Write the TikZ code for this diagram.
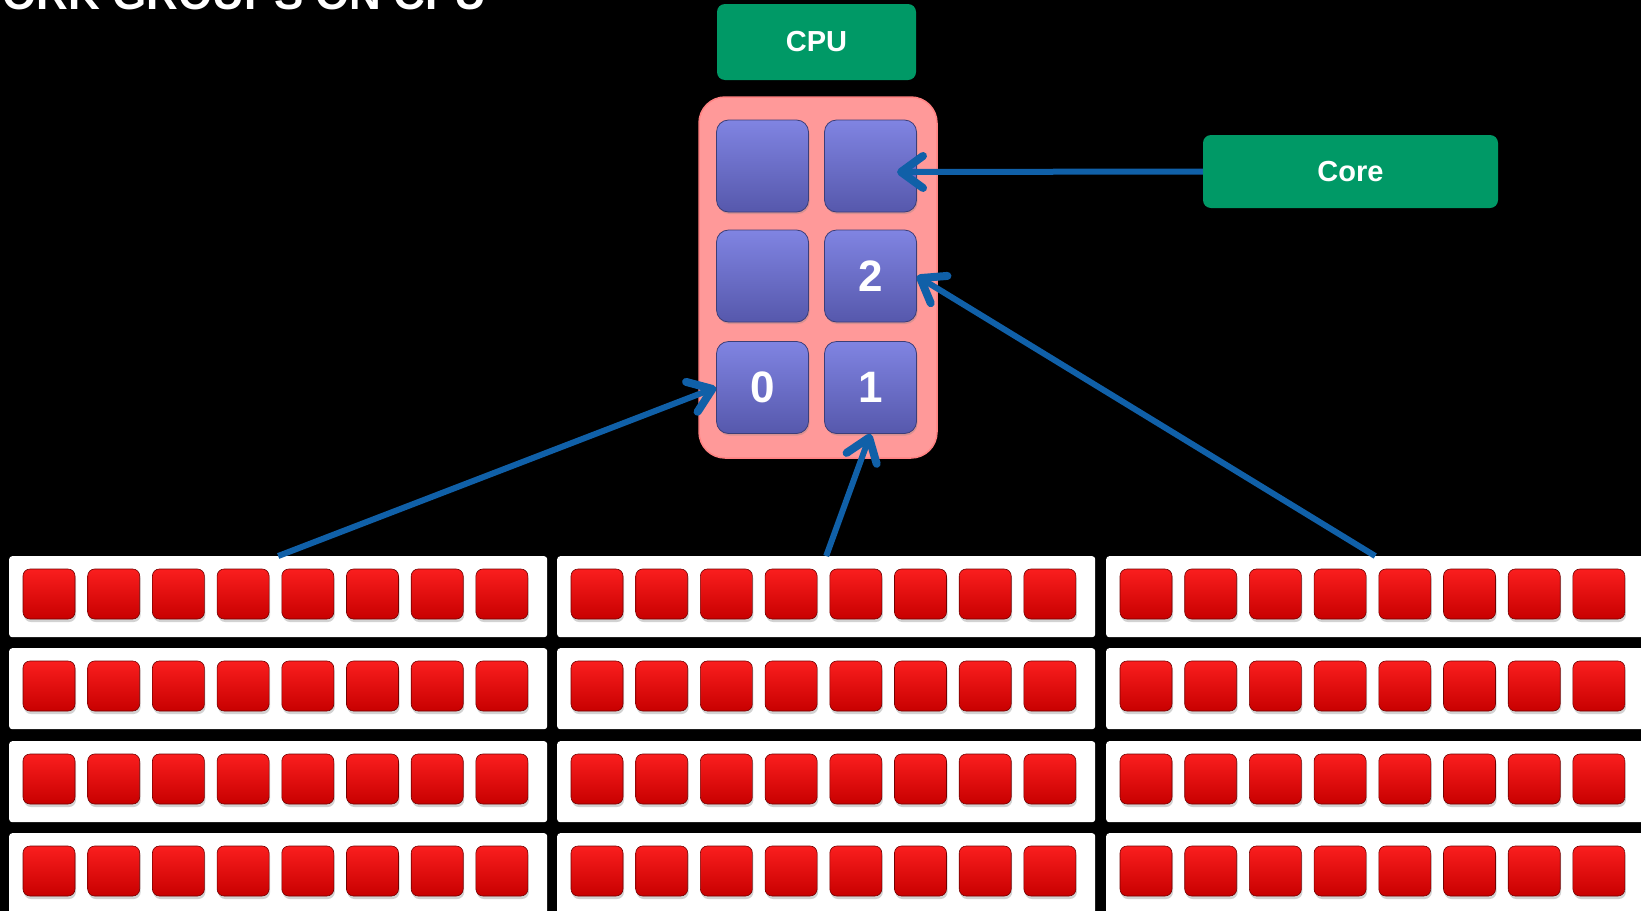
\documentclass[tikz,border=0pt]{standalone}
\usepackage{fontspec}
\setmainfont{Liberation Sans}
\usetikzlibrary{arrows.meta,shadows,calc}
\definecolor{bgreen}{RGB}{0,153,102}
\definecolor{pinkc}{RGB}{255,153,153}
\definecolor{bluetop}{RGB}{128,132,226}
\definecolor{bluebot}{RGB}{86,88,172}
\definecolor{redtop}{RGB}{250,30,30}
\definecolor{redbot}{RGB}{200,0,0}
\definecolor{arrblue}{RGB}{16,96,168}
\begin{document}
\begin{tikzpicture}[x=1pt,y=-1pt,
  greenbox/.style={fill=bgreen, rounded corners=8pt, text=white, font=\fontsize{29}{29}\selectfont\bfseries, inner sep=0},
  cpubody/.style={fill=pinkc, rounded corners=26pt, draw=pinkc!85!red, line width=1.5pt, inner sep=0},
  corebox/.style={minimum width=92pt, minimum height=92pt, rounded corners=12pt, top color=bluetop, bottom color=bluebot, draw=bluebot!70!black, line width=0.8pt, text=white, font=\fontsize{44}{44}\selectfont\bfseries, inner sep=0, drop shadow={opacity=0.3, shadow xshift=1pt, shadow yshift=-2pt}},
  panel/.style={fill=white, rounded corners=3pt, minimum height=81pt, minimum width=538pt, inner sep=0},
  item/.style={minimum width=52pt, minimum height=50pt, rounded corners=7pt, top color=redtop, bottom color=redbot, inner sep=0, draw=red!45!black, line width=0.6pt, drop shadow={opacity=0.35, shadow xshift=1pt, shadow yshift=-3pt}},
  arr/.style={draw=arrblue, line width=6pt, -{Straight Barb[length=22pt,width=32pt,line width=2pt 1,round]}},
  titletext/.style={text=white, font=\fontsize{44}{44}\selectfont\bfseries, inner sep=0}
]
\useasboundingbox[fill=black] (0,0) rectangle (1641,911);

% title (clipped by the page top)
\node[titletext, anchor=base east] (title) at (487,9) {WORK GROUPS ON CPU};

% CPU label and body
\node[greenbox, minimum width=199pt, minimum height=76pt] (cpulabel) at (816.5,42) {CPU};
\node[cpubody, minimum width=238pt, minimum height=361pt] (cpu) at (818,277.5) {};

% cores
\node[corebox] (q11) at (762.5,166) {};
\node[corebox] (q12) at (870.5,166) {};
\node[corebox] (q21) at (762.5,276) {};
\node[corebox] (q22) at (870.5,276) {2};
\node[corebox] (q31) at (762.5,387.5) {0};
\node[corebox] (q32) at (870.5,387.5) {1};

% Core label
\node[greenbox, minimum width=295pt, minimum height=73pt] (corelabel) at (1350.5,171.5) {Core};

% work groups
\foreach \c/\px in {1/9, 2/557, 3/1106}{
  \foreach \r/\py in {1/556, 2/648, 3/741, 4/833}{
    \node[panel, anchor=north west] (p\c\r) at (\px,\py) {};
    \foreach \k in {0,...,7}{
      \node[item] (w\c\r\k) at (\px+40+64.7*\k, \py+38) {};
    }
  }
}

% arrows
\coordinate (coretip) at (897,172);
\draw[arr] (corelabel.west) -- (coretip);
\draw[arr] (p11.north) -- (q31.west);
\draw[arr] (p21.north) -- (q32.south);
\draw[arr] (p31.north) -- (q22.east);
\end{tikzpicture}
\end{document}
